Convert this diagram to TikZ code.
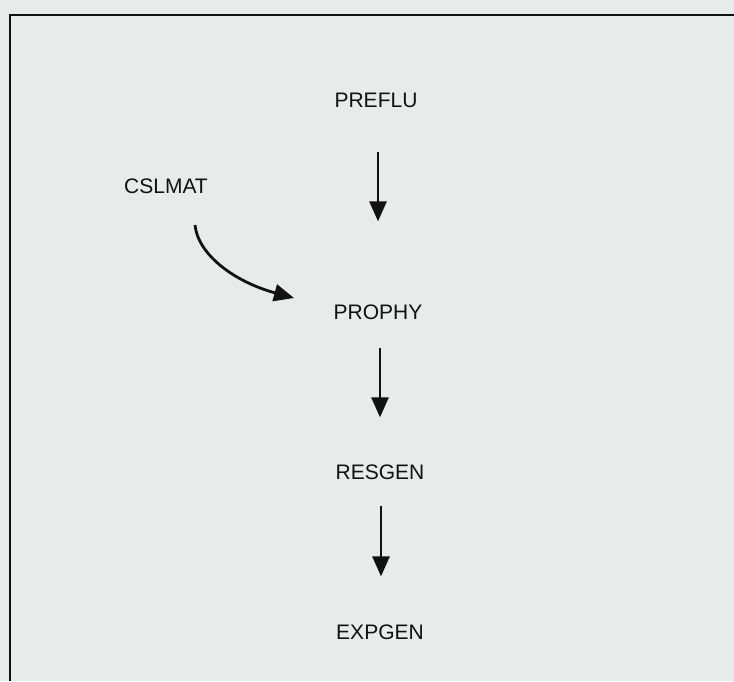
\documentclass[tikz,border=0pt]{standalone}
\usepackage{fontspec}
\setmainfont{Liberation Sans}
\usetikzlibrary{arrows.meta}
\definecolor{paper}{RGB}{231,235,234}
\definecolor{ink}{RGB}{18,18,18}
\begin{document}
\begin{tikzpicture}[x=1pt,y=-1pt,
  lbl/.style={inner sep=0pt, text=ink, font=\fontsize{21}{25}\selectfont},
  arr/.style={draw=ink, line width=2.8pt, -{Triangle[length=20pt,width=17pt]}},
  frame/.style={draw=ink, line width=2.6pt}]
\fill[paper] (0,0) rectangle (734,681);
\useasboundingbox (0,0) rectangle (734,681);
\draw[frame] (10,681) -- (10,15) -- (734,15);
\node[lbl] (preflu) at (376,100) {PREFLU};
\node[lbl] (cslmat) at (166,186) {CSLMAT};
\node[lbl] (prophy) at (378,312) {PROPHY};
\node[lbl] (resgen) at (380,472) {RESGEN};
\node[lbl] (expgen) at (380,632) {EXPGEN};
\draw[arr, shorten <=44pt, shorten >=83pt] (preflu.south -| 378,0) -- (prophy.north -| 378,0);
\draw[arr, shorten <=28pt, shorten >=47pt] (prophy.south -| 380,0) -- (resgen.north -| 380,0);
\draw[arr, shorten <=26pt, shorten >=48pt] (resgen.south -| 381,0) -- (expgen.north -| 381,0);
\coordinate (cs) at (195,225);
\coordinate (ce) at (294,298);
\draw[arr] (cs) .. controls (198,255) and (235,282) .. (ce);
\end{tikzpicture}
\end{document}
